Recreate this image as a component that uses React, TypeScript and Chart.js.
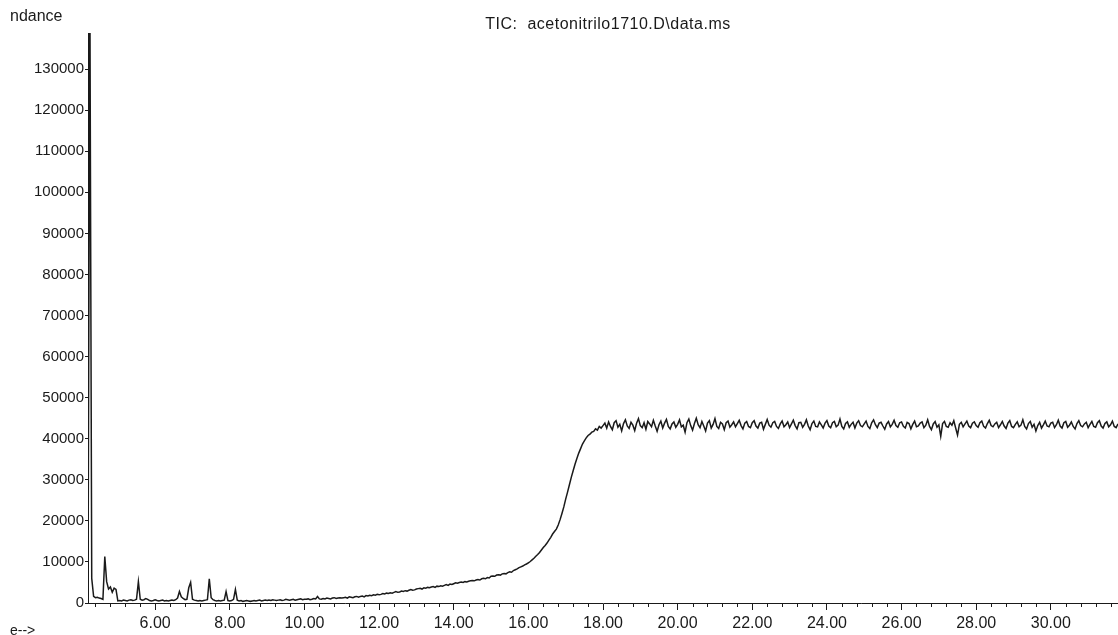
import React, { useEffect, useRef } from "react";
import { Chart, registerables } from "chart.js";

Chart.register(...registerables);

// ---- Data (abundance in thousands, sampled every 0.05 min from 4.20 min) ----
const SCAN_START_MIN = 4.2;
const SCAN_INTERVAL_MIN = 0.05;

const seg_4_20_to_5_00 = [1.8, 150, 6.0, 1.6, 1.3, 1.4, 1.2, 1.1, 0.9, 11.3, 5.2, 3.4, 3.9, 2.6, 3.6, 3.3, 0.5];
const seg_5_05_to_6_00 = [0.6, 0.5, 0.7, 0.6, 0.5, 0.7, 0.8, 0.6, 0.7, 0.9, 5.2, 0.9, 0.7, 0.8, 1.1, 0.9, 0.6, 0.5, 0.6, 0.8];
const seg_6_05_to_7_00 = [0.6, 0.5, 0.6, 0.7, 0.5, 0.6, 0.5, 0.6, 0.7, 0.6, 0.8, 1.2, 2.8, 1.5, 1.1, 0.8, 0.9, 3.7, 5.0, 0.9];
const seg_7_05_to_8_00 = [0.7, 0.6, 0.5, 0.6, 0.5, 0.6, 0.7, 0.8, 5.9, 1.3, 0.8, 0.6, 0.5, 0.6, 0.5, 0.6, 0.7, 2.8, 0.6, 0.5];
const seg_8_05_to_9_00 = [0.6, 0.9, 3.3, 0.7, 0.5, 0.6, 0.4, 0.5, 0.6, 0.5, 0.4, 0.5, 0.6, 0.5, 0.6, 0.7, 0.5, 0.6, 0.7, 0.6];
const seg_9_05_to_10_00 = [0.7, 0.6, 0.8, 0.7, 0.6, 0.7, 0.8, 0.6, 0.7, 0.9, 0.8, 0.7, 0.8, 0.9, 0.7, 0.8, 0.9, 1.0, 0.8, 0.9];
const seg_10_05_to_11_00 = [0.9, 1.0, 0.8, 0.9, 1.1, 1.0, 1.6, 1.0, 0.9, 1.1, 1.0, 1.2, 1.1, 1.0, 1.2, 1.3, 1.1, 1.2, 1.3, 1.2];
const seg_11_05_to_12_00 = [1.3, 1.4, 1.2, 1.5, 1.4, 1.3, 1.5, 1.6, 1.4, 1.6, 1.7, 1.5, 1.8, 1.7, 1.9, 1.8, 2.0, 1.9, 2.1, 2.0];
const seg_12_05_to_13_00 = [2.1, 2.3, 2.2, 2.4, 2.3, 2.5, 2.4, 2.6, 2.8, 2.6, 2.7, 2.9, 2.8, 3.0, 2.9, 3.1, 3.3, 3.1, 3.2, 3.4];
const seg_13_05_to_14_00 = [3.5, 3.6, 3.4, 3.7, 3.6, 3.8, 3.7, 3.9, 4.0, 3.8, 4.1, 4.0, 4.2, 4.1, 4.3, 4.5, 4.3, 4.6, 4.5, 4.7];
const seg_14_05_to_15_00 = [4.9, 4.8, 5.0, 5.1, 5.0, 5.2, 5.1, 5.3, 5.4, 5.5, 5.4, 5.6, 5.7, 5.6, 5.9, 6.0, 5.9, 6.2, 6.1, 6.5];
const seg_15_05_to_16_00 = [6.6, 6.5, 6.8, 6.9, 6.8, 7.1, 7.2, 7.1, 7.4, 7.6, 7.5, 7.9, 8.1, 8.3, 8.6, 8.8, 9.0, 9.3, 9.5, 9.8];
const seg_16_05_to_17_00 = [10.1, 10.5, 10.9, 11.4, 11.8, 12.3, 12.9, 13.5, 14.0, 14.6, 15.3, 16.0, 16.8, 17.4, 18.0, 19.0, 20.3, 21.8, 23.4, 25.3];
const seg_17_05_to_18_00 = [27.0, 28.8, 30.6, 32.2, 33.8, 35.2, 36.5, 37.6, 38.7, 39.5, 40.2, 40.8, 41.1, 41.6, 41.8, 42.4, 42.1, 43.0, 42.6, 43.2];
const seg_18_05_to_19_00 = [43.8, 42.6, 44.1, 43.0, 42.2, 43.9, 44.4, 42.8, 43.5, 41.9, 43.7, 44.6, 43.1, 42.5, 44.0, 43.3, 42.0, 43.8, 44.9, 43.2];
const seg_19_05_to_20_00 = [42.7, 43.9, 42.3, 44.2, 43.6, 42.9, 44.5, 43.1, 41.8, 43.4, 44.3, 42.6, 43.8, 44.7, 43.0, 42.4, 43.6, 44.1, 42.8, 43.5];
const seg_20_05_to_21_00 = [44.6, 42.9, 43.3, 41.6, 43.9, 44.8, 43.2, 42.1, 43.7, 45.0, 43.4, 42.7, 44.2, 43.1, 41.9, 43.8, 44.4, 42.6, 43.5, 44.9];
const seg_21_05_to_22_00 = [43.0, 42.5, 44.0, 43.6, 42.2, 43.9, 44.3, 42.8, 43.4, 44.1, 42.9, 43.7, 44.5, 43.2, 42.4, 43.8, 44.2, 43.0, 42.7, 43.9];
const seg_22_05_to_23_00 = [44.4, 43.1, 42.6, 43.8, 44.0, 42.3, 43.5, 44.7, 43.3, 42.8, 43.9, 44.2, 43.0, 42.5, 43.6, 44.3, 42.9, 43.4, 44.1, 42.7];
const seg_23_05_to_24_00 = [43.6, 44.5, 43.2, 42.4, 43.9, 44.0, 42.8, 43.5, 44.6, 43.1, 42.2, 43.7, 44.3, 43.0, 42.9, 44.1, 43.4, 42.6, 43.8, 44.4];
const seg_24_05_to_25_00 = [43.1, 42.7, 43.9, 44.2, 42.9, 43.3, 44.8, 43.0, 42.4, 43.7, 44.1, 42.8, 43.5, 44.0, 42.6, 43.8, 44.4, 43.2, 42.9, 43.6];
const seg_25_05_to_26_00 = [44.3, 43.0, 42.5, 43.9, 44.6, 43.4, 42.7, 43.8, 44.0, 43.1, 42.3, 43.6, 44.2, 42.9, 43.5, 44.5, 43.2, 42.8, 43.9, 44.1];
const seg_26_05_to_27_00 = [43.0, 42.6, 44.0, 43.7, 42.4, 43.5, 44.3, 42.9, 43.1, 43.8, 44.1, 42.7, 43.3, 44.6, 43.0, 42.2, 43.6, 44.2, 42.8, 43.4];
const seg_27_05_to_28_00 = [40.6, 43.7, 44.2, 43.0, 42.8, 43.9, 43.3, 44.4, 42.6, 40.9, 43.5, 44.0, 42.9, 43.6, 44.3, 43.1, 42.7, 43.8, 44.1, 43.2];
const seg_28_05_to_29_00 = [42.8, 43.9, 44.3, 43.0, 42.6, 43.7, 44.5, 43.2, 42.9, 43.6, 44.0, 42.7, 43.4, 44.2, 43.1, 42.5, 43.8, 44.4, 43.0, 42.7];
const seg_29_05_to_30_00 = [43.5, 44.1, 42.9, 43.3, 44.6, 43.0, 42.4, 43.7, 44.2, 42.8, 43.5, 41.9, 43.2, 44.0, 42.6, 43.4, 44.3, 43.1, 42.9, 43.8];
const seg_30_05_to_31_00 = [44.0, 42.7, 43.4, 44.5, 43.1, 42.6, 43.9, 44.2, 42.8, 43.3, 44.1, 43.0, 42.4, 43.7, 44.4, 43.2, 42.9, 43.6, 44.0, 42.7];
const seg_31_05_to_31_80 = [43.5, 44.2, 43.0, 42.8, 43.9, 44.4, 43.1, 42.6, 43.7, 44.1, 42.9, 43.4, 44.3, 43.0, 42.7, 43.6];

const abundanceK = [
  ...seg_4_20_to_5_00, ...seg_5_05_to_6_00, ...seg_6_05_to_7_00, ...seg_7_05_to_8_00,
  ...seg_8_05_to_9_00, ...seg_9_05_to_10_00, ...seg_10_05_to_11_00, ...seg_11_05_to_12_00,
  ...seg_12_05_to_13_00, ...seg_13_05_to_14_00, ...seg_14_05_to_15_00, ...seg_15_05_to_16_00,
  ...seg_16_05_to_17_00, ...seg_17_05_to_18_00, ...seg_18_05_to_19_00, ...seg_19_05_to_20_00,
  ...seg_20_05_to_21_00, ...seg_21_05_to_22_00, ...seg_22_05_to_23_00, ...seg_23_05_to_24_00,
  ...seg_24_05_to_25_00, ...seg_25_05_to_26_00, ...seg_26_05_to_27_00, ...seg_27_05_to_28_00,
  ...seg_28_05_to_29_00, ...seg_29_05_to_30_00, ...seg_30_05_to_31_00, ...seg_31_05_to_31_80,
];

const X_TICK_LABELS = [6, 8, 10, 12, 14, 16, 18, 20, 22, 24, 26, 28, 30];
const X_MINOR_TICK_STEP = 0.4;
const Y_TICKS = [0, 10000, 20000, 30000, 40000, 50000, 60000, 70000, 80000, 90000, 100000, 110000, 120000, 130000];
const X_MIN = 4.2;
const X_MAX = 31.8;
const Y_MIN = 0;
const Y_MAX = 138800;

const TITLE = "TIC:  acetonitrilo1710.D\\data.ms";
const Y_TITLE = "ndance";
const X_TITLE = "e-->";

const FONT = "'Liberation Sans', Arial, sans-serif";
const INK = "#1a1a1a";

export default function App() {
  const ref = useRef<HTMLCanvasElement | null>(null);

  useEffect(() => {
    if (!ref.current) return;
    const points = abundanceK.map((v, i) => ({
      x: SCAN_START_MIN + i * SCAN_INTERVAL_MIN,
      y: v * 1000,
    }));

    const textPlugin = {
      id: "chemstationText",
      afterDraw(chart: any) {
        const ctx = chart.ctx as CanvasRenderingContext2D;
        const xs = chart.scales.x;
        const area = chart.chartArea;
        ctx.save();
        // minor ticks on x axis
        ctx.strokeStyle = INK;
        ctx.lineWidth = 1;
        ctx.beginPath();
        for (let k = Math.ceil(X_MIN / X_MINOR_TICK_STEP); k * X_MINOR_TICK_STEP <= X_MAX; k++) {
          const v = k * X_MINOR_TICK_STEP;
          if (Math.abs(v / 2 - Math.round(v / 2)) < 1e-6) continue;
          const px = Math.round(xs.getPixelForValue(v)) + 0.5;
          ctx.moveTo(px, area.bottom);
          ctx.lineTo(px, area.bottom + 4);
        }
        ctx.stroke();
        // texts
        ctx.fillStyle = INK;
        ctx.textBaseline = "middle";
        ctx.textAlign = "left";
        ctx.font = `16px ${FONT}`;
        ctx.fillText(Y_TITLE, 10, 17);
        ctx.textAlign = "center";
        (ctx as any).letterSpacing = "0.5px";
        ctx.fillText(TITLE, 608, 25);
        (ctx as any).letterSpacing = "0px";
        ctx.textAlign = "left";
        ctx.font = `14px ${FONT}`;
        ctx.fillText(X_TITLE, 10, 631);
        ctx.restore();
      },
    };

    const chart = new Chart(ref.current, {
      type: "line",
      data: {
        datasets: [
          {
            data: points,
            borderColor: INK,
            borderWidth: 1.5,
            pointRadius: 0,
            tension: 0,
            fill: false,
          },
        ],
      },
      options: {
        animation: false,
        responsive: false,
        parsing: false,
        normalized: true,
        layout: { padding: { top: 33, left: 0, right: 0, bottom: 0 } },
        plugins: {
          legend: { display: false },
          tooltip: { enabled: false },
          title: { display: false },
        },
        scales: {
          x: {
            type: "linear",
            min: X_MIN,
            max: X_MAX,
            afterBuildTicks: (scale: any) => {
              scale.ticks = X_TICK_LABELS.map((v) => ({ value: v }));
            },
            afterFit: (scale: any) => {
              scale.height = 32;
            },
            ticks: {
              autoSkip: false,
              maxRotation: 0,
              padding: 4,
              color: INK,
              font: { family: FONT, size: 16 },
              callback: (v: any) => Number(v).toFixed(2),
            },
            grid: {
              display: true,
              drawOnChartArea: false,
              drawTicks: true,
              tickLength: 7,
              color: INK,
            },
            border: { display: true, color: INK, width: 1 },
          },
          y: {
            type: "linear",
            min: Y_MIN,
            max: Y_MAX,
            afterBuildTicks: (scale: any) => {
              scale.ticks = Y_TICKS.map((v) => ({ value: v }));
            },
            afterFit: (scale: any) => {
              scale.width = 88;
            },
            ticks: {
              autoSkip: false,
              padding: 1,
              color: INK,
              font: { family: FONT, size: 15 },
              callback: (v: any) => String(v),
            },
            grid: {
              display: true,
              drawOnChartArea: false,
              drawTicks: true,
              tickLength: 3,
              color: INK,
            },
            border: { display: true, color: INK, width: 1 },
          },
        },
      },
      plugins: [textPlugin],
    } as any);

    return () => chart.destroy();
  }, []);

  return (
    <div style={{ position: "fixed", left: 0, top: 0, width: 1118, height: 635, background: "#fff" }}>
      <canvas ref={ref} width={1118} height={635} style={{ display: "block" }} />
    </div>
  );
}
